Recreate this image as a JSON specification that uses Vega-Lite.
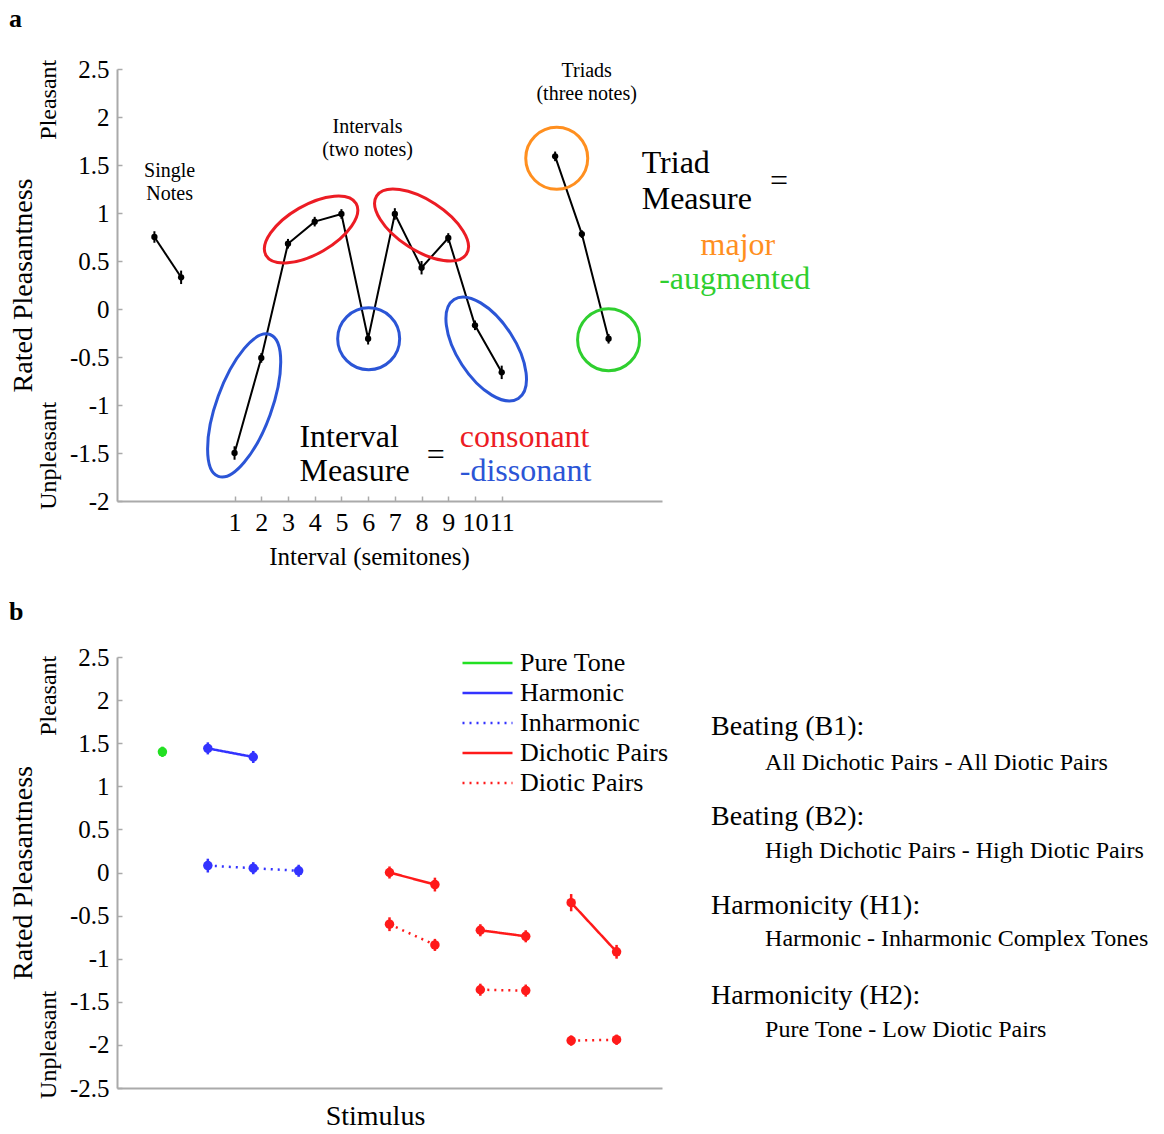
{
  "$schema": "https://vega.github.io/schema/vega-lite/v6.json",
  "padding": {"left": 8, "top": 6, "right": 2, "bottom": 2},
  "spacing": 30,
  "resolve": {
    "scale": {"color": "independent", "strokeDash": "independent"},
    "legend": {"color": "independent", "strokeDash": "independent"}
  },
  "config": {
    "font": "Liberation Serif",
    "view": {"stroke": null},
    "axis": {
      "grid": false,
      "domainColor": "#aaaaaa",
      "domainWidth": 2,
      "tickColor": "#aaaaaa",
      "tickSize": -5,
      "tickWidth": 1.5,
      "labelPadding": 13,
      "labelFont": "Liberation Serif",
      "labelFontSize": 25,
      "labelColor": "#000000",
      "titleFont": "Liberation Serif",
      "titleFontSize": 28,
      "titleFontWeight": "normal",
      "titleColor": "#000000"
    }
  },
  "vconcat": [
    {
      "width": 545,
      "height": 432,
      "data": {"values": [
        {"set": "single", "semitone": -2, "rating": 0.75, "lo": 0.69, "hi": 0.81},
        {"set": "single", "semitone": -1, "rating": 0.33, "lo": 0.26, "hi": 0.40},
        {"set": "interval", "semitone": 1, "rating": -1.50, "lo": -1.57, "hi": -1.43},
        {"set": "interval", "semitone": 2, "rating": -0.51, "lo": -0.56, "hi": -0.46},
        {"set": "interval", "semitone": 3, "rating": 0.68, "lo": 0.63, "hi": 0.73},
        {"set": "interval", "semitone": 4, "rating": 0.91, "lo": 0.86, "hi": 0.96},
        {"set": "interval", "semitone": 5, "rating": 0.99, "lo": 0.94, "hi": 1.04},
        {"set": "interval", "semitone": 6, "rating": -0.31, "lo": -0.37, "hi": -0.25},
        {"set": "interval", "semitone": 7, "rating": 0.99, "lo": 0.93, "hi": 1.05},
        {"set": "interval", "semitone": 8, "rating": 0.43, "lo": 0.36, "hi": 0.50},
        {"set": "interval", "semitone": 9, "rating": 0.74, "lo": 0.69, "hi": 0.79},
        {"set": "interval", "semitone": 10, "rating": -0.17, "lo": -0.22, "hi": -0.12},
        {"set": "interval", "semitone": 11, "rating": -0.66, "lo": -0.73, "hi": -0.59},
        {"set": "triad", "semitone": 13, "rating": 1.59, "lo": 1.54, "hi": 1.64},
        {"set": "triad", "semitone": 14, "rating": 0.78, "lo": 0.74, "hi": 0.82},
        {"set": "triad", "semitone": 15, "rating": -0.31, "lo": -0.36, "hi": -0.26}
      ]},
      "layer": [
        {
          "mark": {"type": "line", "color": "#000000", "strokeWidth": 2},
          "encoding": {
            "x": {"field": "semitone", "type": "quantitative",
              "scale": {"domain": [-3.4, 17], "nice": false, "zero": false},
              "axis": {"values": [1, 2, 3, 4, 5, 6, 7, 8, 9, 10, 11], "title": "Interval (semitones)", "labelFontSize": 26, "titleFontSize": 25, "titlePadding": 9, "titleX": 252}},
            "y": {"field": "rating", "type": "quantitative",
              "scale": {"domain": [-2, 2.5], "nice": false, "zero": false},
              "axis": {"values": [-2, -1.5, -1, -0.5, 0, 0.5, 1, 1.5, 2, 2.5], "labelExpr": "'' + datum.value", "title": "Rated Pleasantness", "titlePadding": 32}},
            "detail": {"field": "set"}
          }
        },
        {
          "mark": {"type": "rule", "color": "#000000", "strokeWidth": 2},
          "encoding": {
            "x": {"field": "semitone", "type": "quantitative"},
            "y": {"field": "lo", "type": "quantitative"},
            "y2": {"field": "hi"}
          }
        },
        {
          "mark": {"type": "point", "filled": true, "color": "#000000", "size": 40, "opacity": 1},
          "encoding": {
            "x": {"field": "semitone", "type": "quantitative"},
            "y": {"field": "rating", "type": "quantitative"}
          }
        },
        {
          "data": {"values": [{"semitone": 1.36, "rating": -1.005, "measure": "dissonant"}]},
          "mark": {"type": "point", "filled": false, "opacity": 1, "strokeWidth": 3, "size": 22801, "angle": 290,
            "shape": "M -1 0 C -1 -0.2016 -0.5523 -0.365 0 -0.365 C 0.5523 -0.365 1 -0.2016 1 0 C 1 0.2016 0.5523 0.365 0 0.365 C -0.5523 0.365 -1 0.2016 -1 0 Z"},
          "encoding": {
            "x": {"field": "semitone", "type": "quantitative"},
            "y": {"field": "rating", "type": "quantitative"},
            "color": {"field": "measure", "type": "nominal", "legend": null,
              "scale": {"domain": ["consonant", "dissonant", "major", "augmented", "neutral"], "range": ["#ec1c24", "#2b55d6", "#ff8f1f", "#2fcf2f", "#000000"]}}
          }
        },
        {
          "data": {"values": [{"semitone": 3.865, "rating": 0.828, "measure": "consonant"}]},
          "mark": {"type": "point", "filled": false, "opacity": 1, "strokeWidth": 3, "size": 10816, "angle": 330,
            "shape": "M -1 0 C -1 -0.2596 -0.5523 -0.47 0 -0.47 C 0.5523 -0.47 1 -0.2596 1 0 C 1 0.2596 0.5523 0.47 0 0.47 C -0.5523 0.47 -1 0.2596 -1 0 Z"},
          "encoding": {
            "x": {"field": "semitone", "type": "quantitative"},
            "y": {"field": "rating", "type": "quantitative"},
            "color": {"field": "measure", "type": "nominal", "legend": null}
          }
        },
        {
          "data": {"values": [{"semitone": 8.0, "rating": 0.875, "measure": "consonant"}]},
          "mark": {"type": "point", "filled": false, "opacity": 1, "strokeWidth": 3, "size": 11449, "angle": 33,
            "shape": "M -1 0 C -1 -0.2596 -0.5523 -0.47 0 -0.47 C 0.5523 -0.47 1 -0.2596 1 0 C 1 0.2596 0.5523 0.47 0 0.47 C -0.5523 0.47 -1 0.2596 -1 0 Z"},
          "encoding": {
            "x": {"field": "semitone", "type": "quantitative"},
            "y": {"field": "rating", "type": "quantitative"},
            "color": {"field": "measure", "type": "nominal", "legend": null}
          }
        },
        {
          "data": {"values": [{"semitone": 10.42, "rating": -0.417, "measure": "dissonant"}]},
          "mark": {"type": "point", "filled": false, "opacity": 1, "strokeWidth": 3, "size": 13924, "angle": 57,
            "shape": "M -1 0 C -1 -0.2706 -0.5523 -0.49 0 -0.49 C 0.5523 -0.49 1 -0.2706 1 0 C 1 0.2706 0.5523 0.49 0 0.49 C -0.5523 0.49 -1 0.2706 -1 0 Z"},
          "encoding": {
            "x": {"field": "semitone", "type": "quantitative"},
            "y": {"field": "rating", "type": "quantitative"},
            "color": {"field": "measure", "type": "nominal", "legend": null}
          }
        },
        {
          "data": {"values": [
            {"semitone": 6.02, "rating": -0.31, "measure": "dissonant"},
            {"semitone": 13.06, "rating": 1.57, "measure": "major"},
            {"semitone": 15.0, "rating": -0.32, "measure": "augmented"}
          ]},
          "mark": {"type": "point", "shape": "circle", "filled": false, "opacity": 1, "strokeWidth": 3, "size": 3844},
          "encoding": {
            "x": {"field": "semitone", "type": "quantitative"},
            "y": {"field": "rating", "type": "quantitative"},
            "color": {"field": "measure", "type": "nominal", "legend": null}
          }
        },
        {
          "data": {"values": [
            {"semitone": -1.43, "rating": 1.44, "label": "Single"},
            {"semitone": -1.43, "rating": 1.2, "label": "Notes"},
            {"semitone": 5.98, "rating": 1.896, "label": "Intervals"},
            {"semitone": 5.98, "rating": 1.656, "label": "(two notes)"},
            {"semitone": 14.18, "rating": 2.479, "label": "Triads"},
            {"semitone": 14.18, "rating": 2.24, "label": "(three notes)"}
          ]},
          "mark": {"type": "text", "fontSize": 20, "align": "center", "color": "#000000"},
          "encoding": {
            "x": {"field": "semitone", "type": "quantitative"},
            "y": {"field": "rating", "type": "quantitative"},
            "text": {"field": "label"}
          }
        },
        {
          "data": {"values": [
            {"semitone": 16.24, "rating": 1.52, "label": "Triad", "measure": "neutral"},
            {"semitone": 16.24, "rating": 1.146, "label": "Measure", "measure": "neutral"},
            {"semitone": 21.04, "rating": 1.333, "label": "=", "measure": "neutral"},
            {"semitone": 3.43, "rating": -1.333, "label": "Interval", "measure": "neutral"},
            {"semitone": 3.43, "rating": -1.6875, "label": "Measure", "measure": "neutral"},
            {"semitone": 8.19, "rating": -1.52, "label": "=", "measure": "neutral"},
            {"semitone": 9.43, "rating": -1.333, "label": "consonant", "measure": "consonant"},
            {"semitone": 9.43, "rating": -1.6875, "label": "-dissonant", "measure": "dissonant"}
          ]},
          "mark": {"type": "text", "fontSize": 32, "align": "left"},
          "encoding": {
            "x": {"field": "semitone", "type": "quantitative"},
            "y": {"field": "rating", "type": "quantitative"},
            "text": {"field": "label"},
            "color": {"field": "measure", "type": "nominal", "legend": null}
          }
        },
        {
          "data": {"values": [
            {"semitone": 19.84, "rating": 0.667, "label": "major", "measure": "major"},
            {"semitone": 19.72, "rating": 0.3125, "label": "-augmented", "measure": "augmented"}
          ]},
          "mark": {"type": "text", "fontSize": 32, "align": "center"},
          "encoding": {
            "x": {"field": "semitone", "type": "quantitative"},
            "y": {"field": "rating", "type": "quantitative"},
            "text": {"field": "label"},
            "color": {"field": "measure", "type": "nominal", "legend": null}
          }
        },
        {
          "data": {"values": [
            {"semitone": -5.95, "rating": 2.18, "label": "Pleasant"},
            {"semitone": -5.95, "rating": -1.53, "label": "Unpleasant"}
          ]},
          "mark": {"type": "text", "fontSize": 24, "align": "center", "angle": 270, "color": "#000000"},
          "encoding": {
            "x": {"field": "semitone", "type": "quantitative"},
            "y": {"field": "rating", "type": "quantitative"},
            "text": {"field": "label"}
          }
        },
        {
          "data": {"values": [{"semitone": -7.445, "rating": 3.02, "label": "a"}]},
          "mark": {"type": "text", "fontSize": 26, "fontWeight": "bold", "align": "left", "color": "#000000"},
          "encoding": {
            "x": {"field": "semitone", "type": "quantitative"},
            "y": {"field": "rating", "type": "quantitative"},
            "text": {"field": "label"}
          }
        }
      ]
    },
    {
      "width": 545,
      "height": 431,
      "data": {"values": [
        {"series": "Pure Tone", "pair": "pt", "stimulus": 1, "rating": 1.40, "lo": 1.34, "hi": 1.46},
        {"series": "Harmonic", "pair": "h", "stimulus": 2, "rating": 1.44, "lo": 1.37, "hi": 1.51},
        {"series": "Harmonic", "pair": "h", "stimulus": 3, "rating": 1.34, "lo": 1.27, "hi": 1.41},
        {"series": "Inharmonic", "pair": "ih", "stimulus": 2, "rating": 0.08, "lo": 0.0, "hi": 0.16},
        {"series": "Inharmonic", "pair": "ih", "stimulus": 3, "rating": 0.05, "lo": -0.02, "hi": 0.12},
        {"series": "Inharmonic", "pair": "ih", "stimulus": 4, "rating": 0.02, "lo": -0.05, "hi": 0.09},
        {"series": "Dichotic Pairs", "pair": "d1", "stimulus": 6, "rating": 0.0, "lo": -0.07, "hi": 0.07},
        {"series": "Dichotic Pairs", "pair": "d1", "stimulus": 7, "rating": -0.14, "lo": -0.22, "hi": -0.06},
        {"series": "Dichotic Pairs", "pair": "d2", "stimulus": 8, "rating": -0.67, "lo": -0.74, "hi": -0.60},
        {"series": "Dichotic Pairs", "pair": "d2", "stimulus": 9, "rating": -0.74, "lo": -0.81, "hi": -0.67},
        {"series": "Dichotic Pairs", "pair": "d3", "stimulus": 10, "rating": -0.35, "lo": -0.45, "hi": -0.25},
        {"series": "Dichotic Pairs", "pair": "d3", "stimulus": 11, "rating": -0.92, "lo": -1.0, "hi": -0.84},
        {"series": "Diotic Pairs", "pair": "o1", "stimulus": 6, "rating": -0.60, "lo": -0.68, "hi": -0.52},
        {"series": "Diotic Pairs", "pair": "o1", "stimulus": 7, "rating": -0.84, "lo": -0.91, "hi": -0.77},
        {"series": "Diotic Pairs", "pair": "o2", "stimulus": 8, "rating": -1.36, "lo": -1.43, "hi": -1.29},
        {"series": "Diotic Pairs", "pair": "o2", "stimulus": 9, "rating": -1.37, "lo": -1.44, "hi": -1.30},
        {"series": "Diotic Pairs", "pair": "o3", "stimulus": 10, "rating": -1.95, "lo": -2.01, "hi": -1.89},
        {"series": "Diotic Pairs", "pair": "o3", "stimulus": 11, "rating": -1.94, "lo": -2.0, "hi": -1.88}
      ]},
      "layer": [
        {
          "mark": {"type": "line", "strokeWidth": 2.5},
          "encoding": {
            "x": {"field": "stimulus", "type": "quantitative",
              "scale": {"domain": [0, 12], "nice": false, "zero": false},
              "axis": {"labels": false, "ticks": false, "title": "Stimulus", "titlePadding": 14, "titleX": 258}},
            "y": {"field": "rating", "type": "quantitative",
              "scale": {"domain": [-2.5, 2.5], "nice": false, "zero": false},
              "axis": {"values": [-2.5, -2, -1.5, -1, -0.5, 0, 0.5, 1, 1.5, 2, 2.5], "labelExpr": "'' + datum.value", "title": "Rated Pleasantness", "titlePadding": 32}},
            "color": {"field": "series", "type": "nominal",
              "scale": {"domain": ["Pure Tone", "Harmonic", "Inharmonic", "Dichotic Pairs", "Diotic Pairs"], "range": ["#22e022", "#3333ff", "#3333ff", "#ff1a1a", "#ff1a1a"]},
              "legend": {"title": null, "orient": "none", "legendX": 356.5, "legendY": -8, "symbolType": "M -2 0 L 2 0", "symbolSize": 625, "symbolStrokeWidth": 2.5, "labelFontSize": 26, "labelFont": "Liberation Serif", "labelColor": "#000000", "labelOffset": 18.5, "rowPadding": 3, "padding": 0}},
            "strokeDash": {"field": "series", "type": "nominal",
              "scale": {"domain": ["Pure Tone", "Harmonic", "Inharmonic", "Dichotic Pairs", "Diotic Pairs"], "range": [[1, 0], [1, 0], [2, 5], [1, 0], [2, 5]]},
              "legend": {"title": null, "orient": "none", "legendX": 356.5, "legendY": -8, "symbolType": "M -2 0 L 2 0", "symbolSize": 625, "symbolStrokeWidth": 2.5, "labelFontSize": 26, "labelFont": "Liberation Serif", "labelColor": "#000000", "labelOffset": 18.5, "rowPadding": 3, "padding": 0}},
            "detail": {"field": "pair"}
          }
        },
        {
          "mark": {"type": "rule", "strokeWidth": 2.5},
          "encoding": {
            "x": {"field": "stimulus", "type": "quantitative"},
            "y": {"field": "lo", "type": "quantitative"},
            "y2": {"field": "hi"},
            "color": {"field": "series", "type": "nominal"}
          }
        },
        {
          "mark": {"type": "point", "filled": true, "shape": "circle", "size": 90, "opacity": 1},
          "encoding": {
            "x": {"field": "stimulus", "type": "quantitative"},
            "y": {"field": "rating", "type": "quantitative"},
            "color": {"field": "series", "type": "nominal"}
          }
        },
        {
          "data": {"values": [
            {"stimulus": -1.497, "rating": 2.05, "label": "Pleasant"},
            {"stimulus": -1.497, "rating": -2.0, "label": "Unpleasant"}
          ]},
          "mark": {"type": "text", "fontSize": 24, "align": "center", "angle": 270, "color": "#000000"},
          "encoding": {
            "x": {"field": "stimulus", "type": "quantitative"},
            "y": {"field": "rating", "type": "quantitative"},
            "text": {"field": "label"}
          }
        },
        {
          "data": {"values": [{"stimulus": -2.378, "rating": 3.02, "label": "b"}]},
          "mark": {"type": "text", "fontSize": 26, "fontWeight": "bold", "align": "left", "color": "#000000"},
          "encoding": {
            "x": {"field": "stimulus", "type": "quantitative"},
            "y": {"field": "rating", "type": "quantitative"},
            "text": {"field": "label"}
          }
        },
        {
          "data": {"values": [
            {"stimulus": 13.08, "rating": 1.688, "label": "Beating (B1):"},
            {"stimulus": 13.08, "rating": 0.644, "label": "Beating (B2):"},
            {"stimulus": 13.08, "rating": -0.389, "label": "Harmonicity (H1):"},
            {"stimulus": 13.08, "rating": -1.433, "label": "Harmonicity (H2):"}
          ]},
          "mark": {"type": "text", "fontSize": 28, "align": "left", "color": "#000000"},
          "encoding": {
            "x": {"field": "stimulus", "type": "quantitative"},
            "y": {"field": "rating", "type": "quantitative"},
            "text": {"field": "label"}
          }
        },
        {
          "data": {"values": [
            {"stimulus": 14.27, "rating": 1.27, "label": "All Dichotic Pairs - All Diotic Pairs"},
            {"stimulus": 14.27, "rating": 0.249, "label": "High Dichotic Pairs - High Diotic Pairs"},
            {"stimulus": 14.27, "rating": -0.771, "label": "Harmonic - Inharmonic Complex Tones"},
            {"stimulus": 14.27, "rating": -1.827, "label": "Pure Tone - Low Diotic Pairs"}
          ]},
          "mark": {"type": "text", "fontSize": 24, "align": "left", "color": "#000000"},
          "encoding": {
            "x": {"field": "stimulus", "type": "quantitative"},
            "y": {"field": "rating", "type": "quantitative"},
            "text": {"field": "label"}
          }
        }
      ]
    }
  ]
}
